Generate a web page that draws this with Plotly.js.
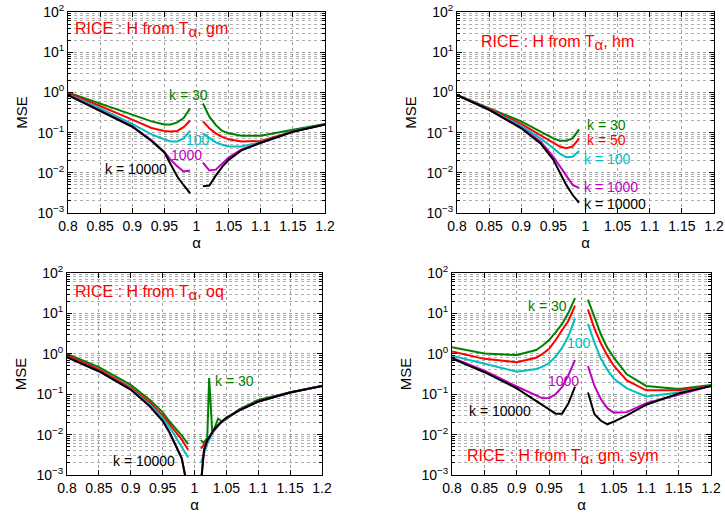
<!DOCTYPE html>
<html>
<head>
<meta charset="utf-8">
<script src="https://cdn.plot.ly/plotly-3.0.1.min.js"></script>
<style>html,body{margin:0;padding:0;background:#fff}#chart{width:725px;height:516px}</style>
</head>
<body>
<div id="chart"></div>
<script>
// ---------- data ----------
const seriesNames = ['k = 30', 'k = 50', 'k = 100', 'k = 1000', 'k = 10000'];

// Panel 1: RICE : H from T_alpha, gm
const gmX     = [0.8, 0.85, 0.9, 0.93, 0.95, 0.96, 0.97, 0.98, 0.99, 1.0, 1.01, 1.02, 1.03, 1.04, 1.05, 1.07, 1.1, 1.12, 1.15, 1.2];
const gm30    = [1.0, 0.53, 0.27, 0.19, 0.16, 0.16, 0.18, 0.23, 0.40, null, 0.53, 0.25, 0.155, 0.11, 0.096, 0.083, 0.084, 0.095, 0.118, 0.165];
const gm50    = [0.95, 0.46, 0.21, 0.13, 0.11, 0.106, 0.11, 0.136, 0.20, null, 0.19, 0.128, 0.096, 0.078, 0.068, 0.06, 0.062, 0.076, 0.106, 0.16];
const gm100   = [0.89, 0.40, 0.164, 0.09, 0.068, 0.06, 0.06, 0.072, 0.112, null, 0.096, 0.072, 0.057, 0.05, 0.045, 0.045, 0.058, 0.074, 0.108, 0.16];
const gm1000  = [0.87, 0.36, 0.146, 0.064, 0.033, 0.021, 0.0145, 0.0108, 0.0114, null, 0.018, 0.0114, 0.012, 0.017, 0.024, 0.038, 0.056, 0.072, 0.105, 0.16];
const gm10000 = [0.85, 0.35, 0.14, 0.062, 0.032, 0.016, 0.0081, 0.0049, 0.0031, null, 0.0046, 0.0048, 0.0085, 0.014, 0.021, 0.036, 0.056, 0.072, 0.105, 0.16];

// Panel 2: RICE : H from T_alpha, hm
const hmX     = [0.8, 0.85, 0.9, 0.93, 0.95, 0.96, 0.97, 0.98, 0.99];
const hm30    = [0.87, 0.40, 0.19, 0.106, 0.072, 0.063, 0.063, 0.072, 0.12];
const hm50    = [0.87, 0.39, 0.164, 0.087, 0.056, 0.045, 0.041, 0.045, 0.072];
const hm100   = [0.86, 0.38, 0.146, 0.072, 0.041, 0.030, 0.0244, 0.025, 0.035];
const hm1000  = [0.85, 0.37, 0.133, 0.06, 0.025, 0.0145, 0.0081, 0.005, 0.0042];
const hm10000 = [0.85, 0.37, 0.128, 0.054, 0.021, 0.01, 0.005, 0.0028, 0.0018];

// Panel 3: RICE : H from T_alpha, oq
const oq30X   = [0.8, 0.85, 0.9, 0.93, 0.95, 0.96, 0.97, 0.98, 0.99, 1.0, 1.01, 1.014, 1.02, 1.023, 1.028, 1.037, 1.043, 1.05, 1.07, 1.1, 1.15, 1.2];
const oq30    = [1.0, 0.47, 0.17, 0.072, 0.036, 0.022, 0.0145, 0.0095, 0.0058, null, 0.0073, 0.0063, 0.0081, 0.25, 0.0105, 0.025, 0.021, 0.024, 0.042, 0.072, 0.112, 0.16];
const oqX     = [0.8, 0.85, 0.9, 0.93, 0.95, 0.96, 0.97, 0.98, 0.99, 1.0, 1.01, 1.015, 1.02, 1.03, 1.04, 1.05, 1.07, 1.1, 1.15, 1.2];
const oq50    = [0.92, 0.41, 0.145, 0.062, 0.03, 0.019, 0.012, 0.0075, 0.0042, null, 0.0045, 0.0056, 0.0072, 0.012, 0.019, 0.026, 0.04, 0.066, 0.11, 0.16];
const oq100   = [0.84, 0.38, 0.135, 0.055, 0.026, 0.016, 0.009, 0.005, 0.0027, null, 0.002, 0.0036, 0.0058, 0.0125, 0.019, 0.026, 0.04, 0.066, 0.11, 0.16];
const oq1000  = [0.83, 0.37, 0.13, 0.05, 0.022, 0.012, 0.0056, 0.0026, 0.0004, null, 0.0006, 0.0042, 0.0072, 0.013, 0.019, 0.026, 0.04, 0.066, 0.11, 0.16];
const oq10000 = [0.82, 0.37, 0.13, 0.05, 0.022, 0.012, 0.0056, 0.0026, 0.0004, null, 0.0006, 0.0042, 0.0072, 0.013, 0.019, 0.026, 0.04, 0.066, 0.11, 0.16];

// Panel 4: RICE : H from T_alpha, gm, sym
const symX     = [0.8, 0.85, 0.9, 0.93, 0.94, 0.95, 0.96, 0.97, 0.98, 0.99, 1.0, 1.01, 1.02, 1.03, 1.04, 1.05, 1.07, 1.1, 1.15, 1.2];
const sym30    = [1.46, 1.02, 0.93, 1.24, 1.6, 2.2, 3.4, 5.5, 10.5, 24, null, 22, 8, 3.0, 1.4, 0.8, 0.31, 0.16, 0.135, 0.17];
const sym50    = [1.15, 0.75, 0.62, 0.8, 1.0, 1.33, 2.2, 3.8, 6.7, 15.5, null, 12.6, 4.2, 1.8, 0.9, 0.5, 0.22, 0.125, 0.125, 0.16];
const sym100   = [0.9, 0.58, 0.36, 0.42, 0.48, 0.59, 0.85, 1.4, 2.8, 7.5, null, 5.5, 1.9, 0.75, 0.4, 0.24, 0.14, 0.088, 0.11, 0.16];
const sym1000  = [0.8, 0.38, 0.155, 0.092, 0.079, 0.08, 0.1, 0.15, 0.3, 0.7, null, 0.5, 0.16, 0.075, 0.045, 0.035, 0.036, 0.06, 0.1, 0.16];
const sym10000 = [0.77, 0.35, 0.14, 0.07, 0.054, 0.042, 0.033, 0.033, 0.06, 0.153, null, 0.11, 0.032, 0.022, 0.018, 0.021, 0.03, 0.055, 0.105, 0.16];

// ticks
const xTickVals = [0.8, 0.85, 0.9, 0.95, 1, 1.05, 1.1, 1.15, 1.2];
const xTickText = ['0.8', '0.85', '0.9', '0.95', '1', '1.05', '1.1', '1.15', '1.2'];
const yTickVals = [0.001, 0.01, 0.1, 1, 10, 100];
const yTickText = ['10<sup>−3</sup>', '10<sup>−2</sup>', '10<sup>−1</sup>', '10<sup>0</sup>', '10<sup>1</sup>', '10<sup>2</sup>'];
const yMinorDigits = [2, 3, 4, 5, 6, 7, 8, 9];

const SUBA = 'T<sub><span style="font-size:15px">α</span></sub>';
const panelTitles = ['RICE : H from ' + SUBA + ', gm', 'RICE : H from ' + SUBA + ', hm',
                     'RICE : H from ' + SUBA + ', oq', 'RICE : H from ' + SUBA + ', gm, sym'];

// ---------- styling ----------
const colors = ['#008000', '#ff0000', '#00bfbf', '#bf00bf', '#000000'];
const FONT = 'Liberation Sans, Arial, Helvetica, sans-serif';

const yMinorVals = [];
yTickVals.slice(0, -1).forEach(d => yMinorDigits.forEach(m => yMinorVals.push(+(d * m).toPrecision(3))));

const traces = [];
function addPanel(idx, xs, ys) {
  const sfx = idx === 1 ? '' : String(idx);
  ys.forEach((y, i) => {
    traces.push({
      type: 'scatter', mode: 'lines', x: xs[i], y: y,
      xaxis: 'x' + sfx, yaxis: 'y' + sfx,
      line: {color: colors[i], width: 2}, connectgaps: false,
      showlegend: false, hoverinfo: 'skip'
    });
  });
}
addPanel(1, [gmX, gmX, gmX, gmX, gmX], [gm30, gm50, gm100, gm1000, gm10000]);
addPanel(2, [hmX, hmX, hmX, hmX, hmX], [hm30, hm50, hm100, hm1000, hm10000]);
addPanel(3, [oq30X, oqX, oqX, oqX, oqX], [oq30, oq50, oq100, oq1000, oq10000]);
addPanel(4, [symX, symX, symX, symX, symX], [sym30, sym50, sym100, sym1000, sym10000]);

const W = 725, H = 516;
// pixel boxes [left, right, top, bottom]
const boxes = [[68, 325, 12, 213], [457, 714, 12, 213], [67, 322, 273, 475], [452, 711, 273, 475]];

const layout = {
  width: W, height: H,
  margin: {l: 0, r: 0, t: 0, b: 0},
  paper_bgcolor: '#fff', plot_bgcolor: '#fff',
  font: {family: FONT, size: 14, color: '#000'},
  showlegend: false,
  annotations: []
};

boxes.forEach((b, i) => {
  const sfx = i === 0 ? '' : String(i + 1);
  const anchorX = 'x' + sfx, anchorY = 'y' + sfx;
  layout['xaxis' + sfx] = {
    domain: [b[0] / W, b[1] / W], anchor: anchorY,
    range: [0.8, 1.2], tickmode: 'array', tickvals: xTickVals, ticktext: xTickText,
    ticks: 'inside', ticklen: 5, tickcolor: '#000', showline: true, mirror: 'ticks',
    linecolor: '#000', linewidth: 1, zeroline: false,
    showgrid: true, gridcolor: '#a0a0a0', griddash: 'dot', gridwidth: 1,
    tickfont: {size: 14, family: FONT}, automargin: false,
    title: {text: 'α', font: {size: 15, family: FONT}, standoff: 2}
  };
  layout['yaxis' + sfx] = {
    domain: [1 - b[3] / H, 1 - b[2] / H], anchor: anchorX,
    type: 'log', range: [-3, 2], tickmode: 'array', tickvals: yTickVals, ticktext: yTickText,
    ticks: 'inside', ticklen: 5, tickcolor: '#000', showline: true, mirror: 'ticks',
    linecolor: '#000', linewidth: 1, zeroline: false,
    showgrid: true, gridcolor: '#a0a0a0', griddash: 'dot', gridwidth: 1,
    minor: {tickmode: 'array', tickvals: yMinorVals, ticks: 'inside', ticklen: 3, tickcolor: '#000',
            showgrid: true, gridcolor: '#b0b0b0', griddash: 'dot', gridwidth: 1},
    tickfont: {size: 14, family: FONT}, automargin: false,
    title: {text: 'MSE', font: {size: 15, family: FONT}, standoff: 6}
  };
});

function ann(panel, x, ylog, text, color, size, xanchor) {
  const sfx = panel === 1 ? '' : String(panel);
  layout.annotations.push({
    xref: 'x' + sfx, yref: 'y' + sfx, x: x, y: ylog, text: text, showarrow: false,
    xanchor: xanchor || 'center', yanchor: 'middle',
    font: {family: FONT, size: size, color: color}
  });
}
// panel titles
ann(1, 0.808, 1.55, panelTitles[0], '#ff0000', 16, 'left');
ann(2, 0.834, 1.23, panelTitles[1], '#ff0000', 16, 'left');
ann(3, 0.809, 1.50, panelTitles[2], '#ff0000', 16, 'left');
ann(4, 0.82, -2.55, panelTitles[3], '#ff0000', 16, 'left');
// curve labels
ann(1, 0.987, -0.065, 'k = 30', colors[0], 14);
ann(1, 1.002, -1.18, '100', colors[2], 14);
ann(1, 0.984, -1.557, '1000', colors[3], 14);
ann(1, 0.906, -1.905, 'k = 10000', colors[4], 14);

ann(2, 0.999, -0.81, 'k = 30', colors[0], 14, 'left');
ann(2, 0.999, -1.184, 'k = 50', colors[1], 14, 'left');
ann(2, 0.995, -1.657, 'k = 100', colors[2], 14, 'left');
ann(2, 0.995, -2.353, 'k = 1000', colors[3], 14, 'left');
ann(2, 0.995, -2.776, 'k = 10000', colors[4], 14, 'left');

ann(3, 1.029, -0.673, 'k = 30', colors[0], 14, 'left');
ann(3, 0.921, -2.653, 'k = 10000', colors[4], 14);

ann(4, 0.9475, 1.183, 'k = 30', colors[0], 14);
ann(4, 0.9957, 0.267, '100', colors[2], 14);
ann(4, 0.972, -0.673, '1000', colors[3], 14);
ann(4, 0.8745, -1.416, 'k = 10000', colors[4], 14);

Plotly.newPlot('chart', traces, layout, {staticPlot: true, displayModeBar: false});
</script>
</body>
</html>
